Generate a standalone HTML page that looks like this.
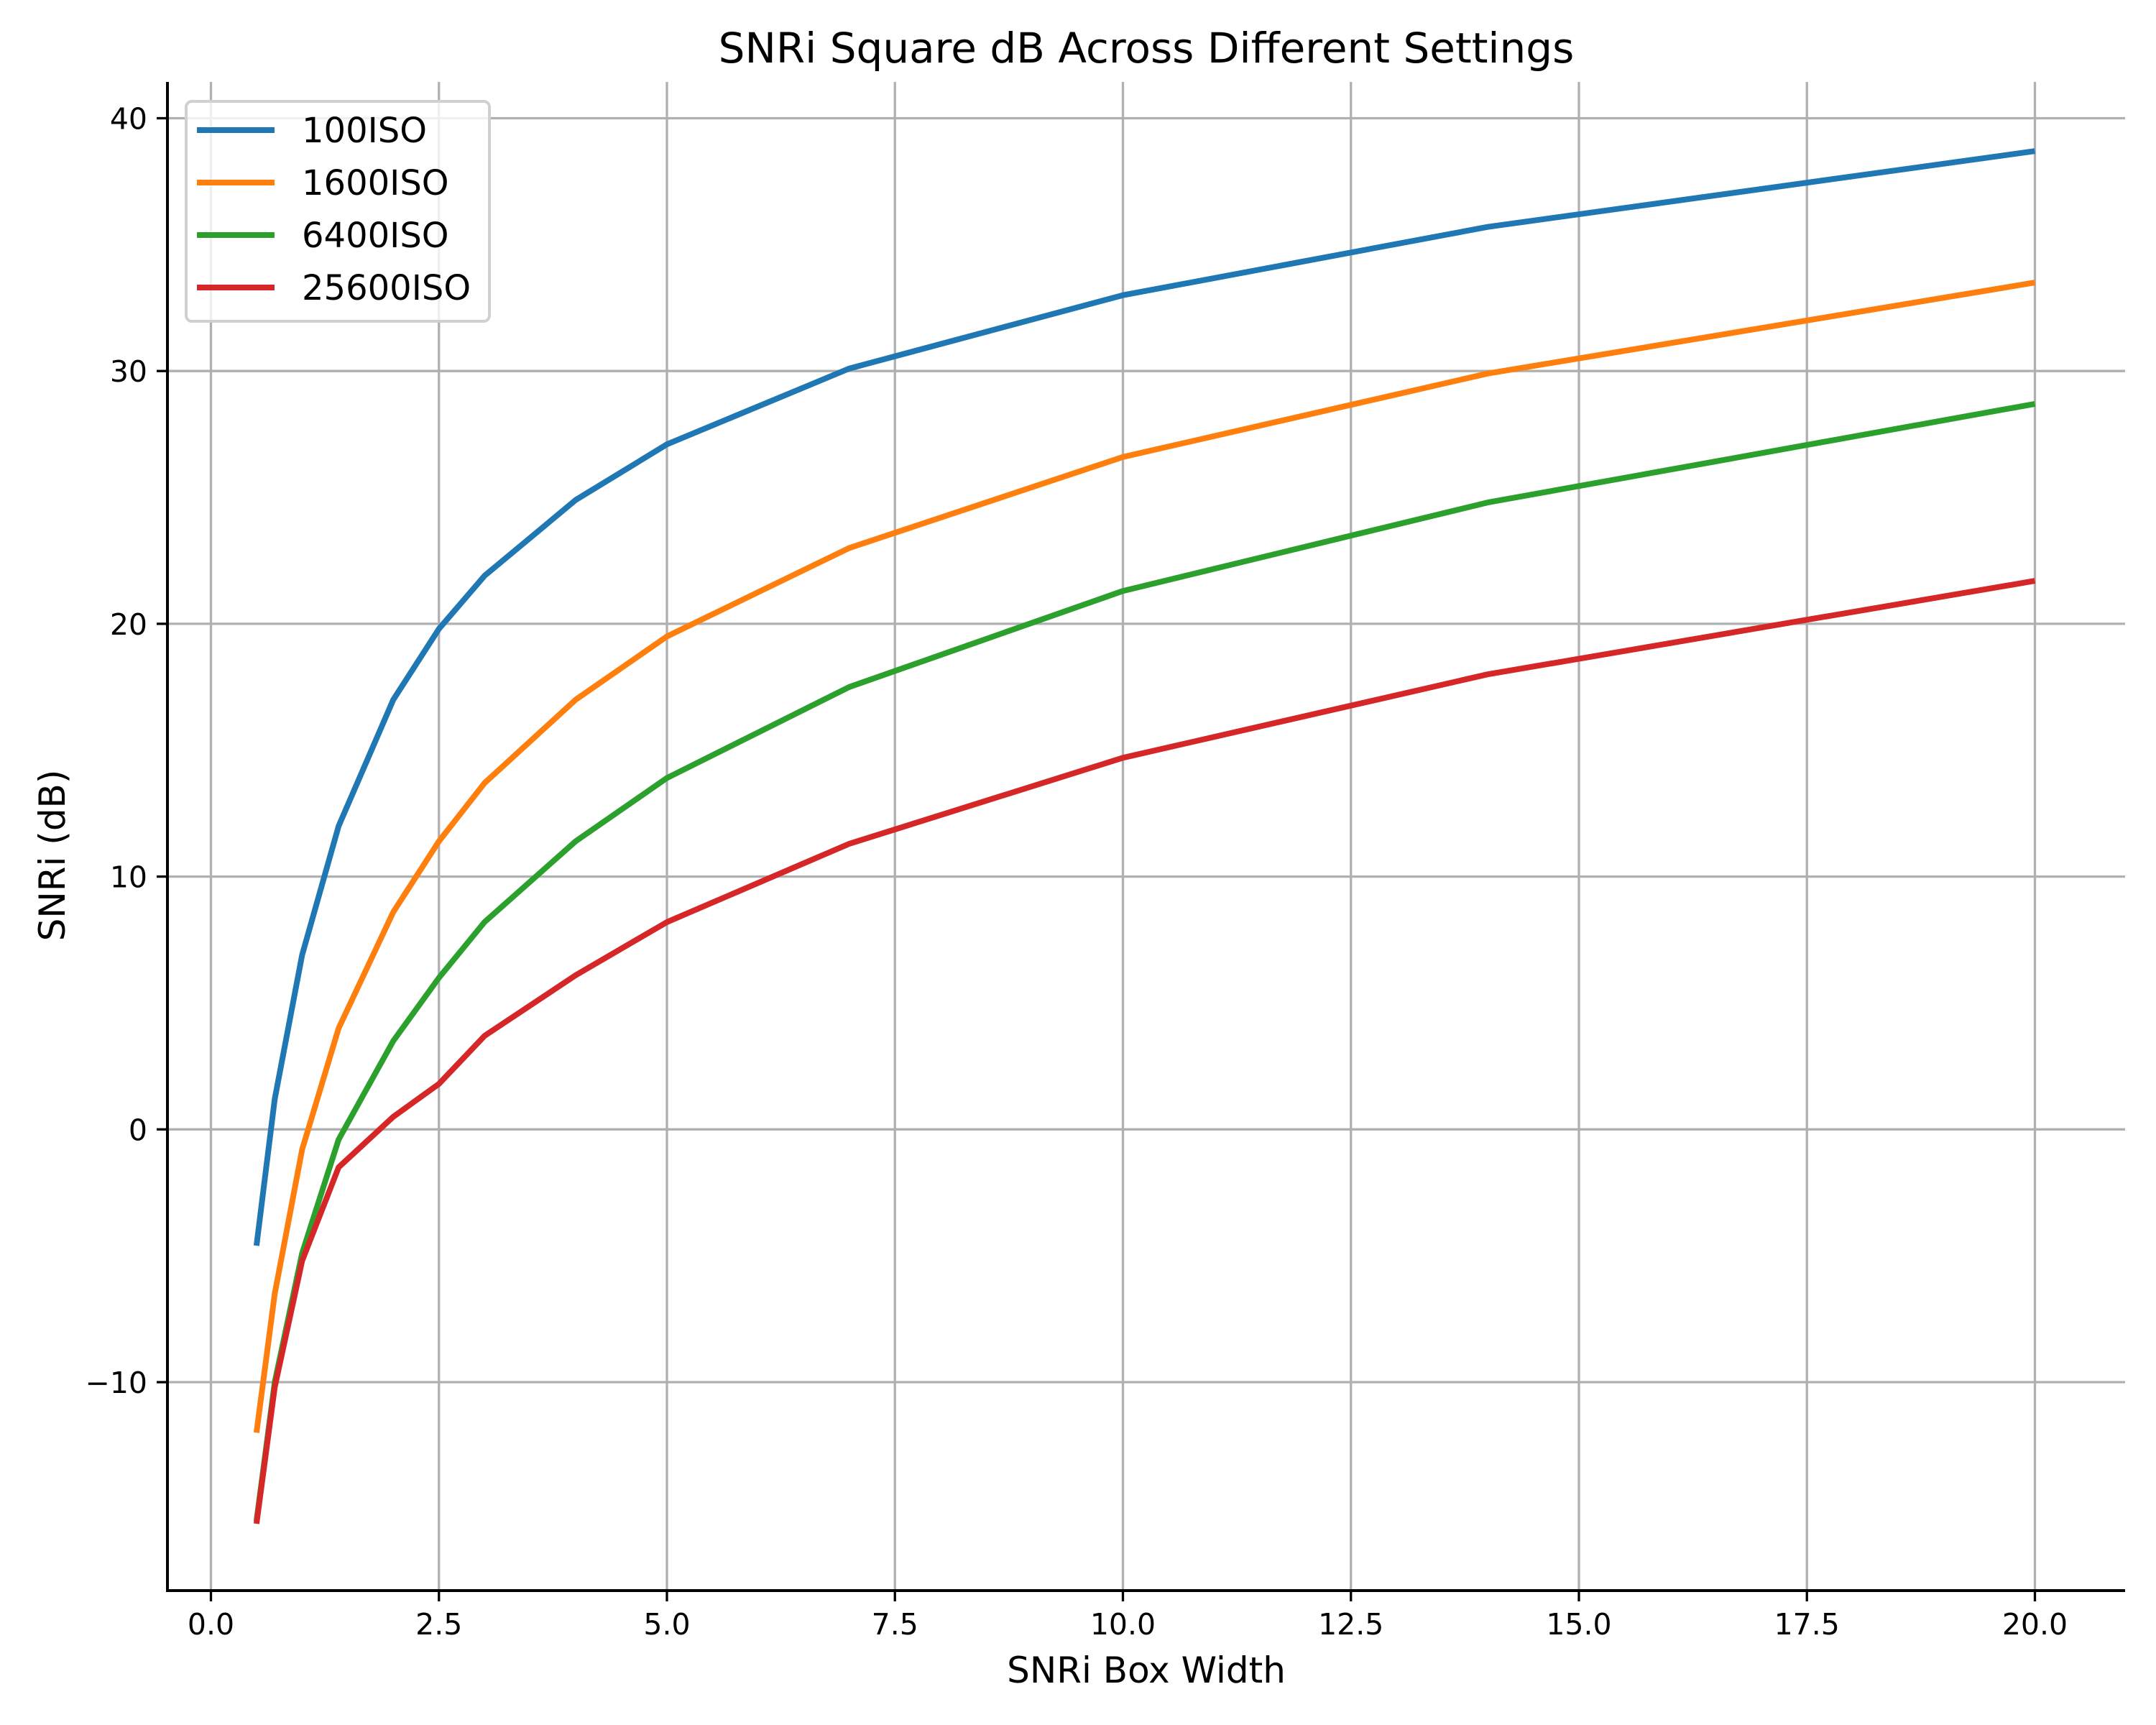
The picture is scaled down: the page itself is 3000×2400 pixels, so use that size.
<!DOCTYPE html>
<html><head><meta charset="utf-8"><style>
html,body{margin:0;padding:0;background:#fff;}
svg{display:block;font-family:"DejaVu Sans","Liberation Sans",sans-serif;}
</style></head><body>
<svg id="chart" width="3000" height="2400" viewBox="0 0 3000 2400" xmlns="http://www.w3.org/2000/svg">
<rect width="3000" height="2400" fill="#fff"/>
<g id="grid"></g>
<g id="series"></g>
<g id="axes"></g>
<text x="1595" y="87" font-size="58" text-anchor="middle">SNRi Square dB Across Different Settings</text>
<text x="1595" y="2341" font-size="50" text-anchor="middle">SNRi Box Width</text>
<text x="90" y="1190" font-size="50" text-anchor="middle" transform="rotate(-90 90 1190)">SNRi (dB)</text>
<g id="legend"></g>
</svg>
<script>
const xValues = [0.5, 0.7, 1, 1.4, 2, 2.5, 3, 4, 5, 7, 10, 14, 20];
const s100 = [-4.6, 1.2, 6.9, 12.0, 17.0, 19.8, 21.9, 24.9, 27.1, 30.1, 33.0, 35.7, 38.7];
const s1600 = [-12.0, -6.5, -0.8, 4.0, 8.6, 11.4, 13.7, 17.0, 19.5, 23.0, 26.6, 29.9, 33.5];
const s6400 = [-15.5, -10.0, -4.9, -0.4, 3.5, 6.0, 8.2, 11.4, 13.9, 17.5, 21.3, 24.8, 28.7];
const s25600 = [-15.6, -10.2, -5.2, -1.5, 0.5, 1.8, 3.7, 6.1, 8.2, 11.3, 14.7, 18.0, 21.7];
const seriesNames = ["100ISO", "1600ISO", "6400ISO", "25600ISO"];
const xTicks = [0, 2.5, 5, 7.5, 10, 12.5, 15, 17.5, 20];
const xTickLabels = ["0.0", "2.5", "5.0", "7.5", "10.0", "12.5", "15.0", "17.5", "20.0"];
const yTicks = [-10, 0, 10, 20, 30, 40];
const yTickLabels = ["\u221210", "0", "10", "20", "30", "40"];

const colors = ["#1f77b4", "#ff7f0e", "#2ca02c", "#d62728"];
const allSeries = [s100, s1600, s6400, s25600];
const L = 233, R = 2957, T = 114, B = 2213;
const X = v => 293.5 + v * 126.9;
const Y = v => 1571.3 - v * 35.17;
const NS = "http://www.w3.org/2000/svg";
function mk(tag, attrs, parent) {
  const e = document.createElementNS(NS, tag);
  for (const k in attrs) e.setAttribute(k, attrs[k]);
  parent.appendChild(e);
  return e;
}
const grid = document.getElementById('grid');
const axes = document.getElementById('axes');
const series = document.getElementById('series');
const legend = document.getElementById('legend');

xTicks.forEach((t, i) => {
  const g = mk('line', {x1: X(t), x2: X(t), y1: T, y2: B, stroke: '#b0b0b0', 'stroke-width': 3.3}, grid);
  
  
  const tk = mk('line', {x1: X(t), x2: X(t), y1: B, y2: B + 15, stroke: '#000', 'stroke-width': 3.3}, axes);
  
  
  const tx = mk('text', {x: X(t), y: B + 61, 'font-size': 41, 'text-anchor': 'middle'}, axes);
  tx.textContent = xTickLabels[i];
  
  
});
yTicks.forEach((t, i) => {
  const g = mk('line', {x1: L, x2: R, y1: Y(t), y2: Y(t), stroke: '#b0b0b0', 'stroke-width': 3.3}, grid);
  
  
  const tk = mk('line', {x1: L - 15, x2: L, y1: Y(t), y2: Y(t), stroke: '#000', 'stroke-width': 3.3}, axes);
  
  
  const tx = mk('text', {x: L - 28, y: Y(t) + 15, 'font-size': 41, 'text-anchor': 'end'}, axes);
  tx.textContent = yTickLabels[i];
  
  
});
const sl = mk('line', {x1: L, x2: L, y1: T, y2: B + 2, stroke: '#000', 'stroke-width': 4}, axes);


const sb = mk('line', {x1: L - 2, x2: R, y1: B, y2: B, stroke: '#000', 'stroke-width': 4}, axes);



allSeries.forEach((vals, si) => {
  const pts = vals.map((v, i) => X(xValues[i]).toFixed(1) + ',' + Y(v).toFixed(1)).join(' ');
  const p = mk('polyline', {points: pts, fill: 'none', stroke: colors[si], 'stroke-width': 8, 'stroke-linejoin': 'round'}, series);
  
  
});

const box = mk('rect', {x: 259, y: 141, width: 422, height: 306, rx: 8, fill: 'rgba(255,255,255,0.8)', stroke: '#d0d0d0', 'stroke-width': 4}, legend);


seriesNames.forEach((n, i) => {
  const y = 181 + i * 73;
  const ln = mk('line', {x1: 274, x2: 382, y1: y, y2: y, stroke: colors[i], 'stroke-width': 8}, legend);
  
  
  const tx = mk('text', {x: 420, y: y + 17, 'font-size': 48}, legend);
  tx.textContent = n;
  
  
});
</script>
</body></html>
